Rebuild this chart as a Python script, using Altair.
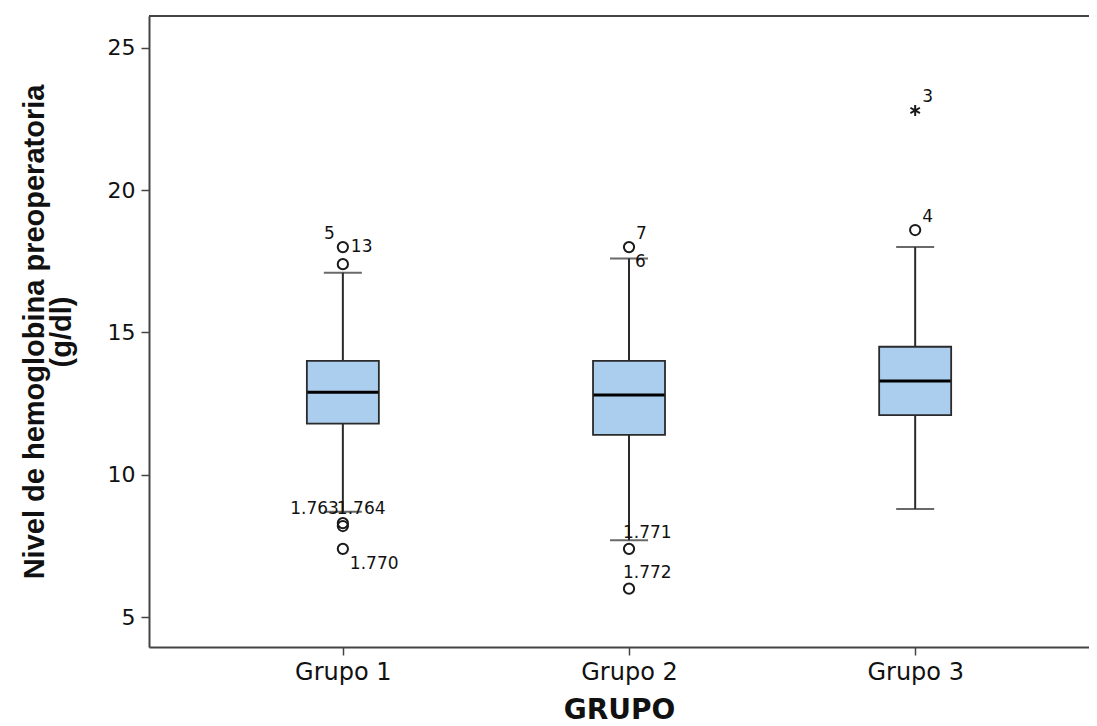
import altair as alt
import pandas as pd

# --- data ---
groups = [1, 2, 3]
group_names = ["Grupo 1", "Grupo 2", "Grupo 3"]
q1 = [11.8, 11.4, 12.1]
median = [12.9, 12.8, 13.3]
q3 = [14.0, 14.0, 14.5]
whisker_low = [8.7, 7.7, 8.8]
whisker_high = [17.1, 17.6, 18.0]

outlier_group = [1, 1, 1, 1, 1, 2, 2, 2, 3]
outlier_value = [18.0, 17.4, 8.3, 8.2, 7.4, 18.0, 7.4, 6.0, 18.6]

extreme_group = [3]
extreme_value = [22.8]

label_group = [1, 1, 1, 1, 1, 2, 2, 2, 2, 3, 3]
label_value = [18.0, 18.0, 8.3, 8.3, 7.4, 18.0, 17.6, 7.4, 6.0, 18.6, 22.8]
label_text = ["5", "13", "1.763", "1.764", "1.770", "7", "6", "1.771", "1.772", "4", "3"]
label_place = ["ul", "r", "al", "ar", "lr", "ur", "rr", "ab", "ab", "ur", "ur"]

# --- tables ---
boxes = pd.DataFrame({"grp": groups, "name": group_names, "q1": q1, "median": median,
                      "q3": q3, "lo": whisker_low, "hi": whisker_high})
outliers = pd.DataFrame({"grp": outlier_group, "val": outlier_value})
extremes = pd.DataFrame({"grp": extreme_group, "val": extreme_value})
labels = pd.DataFrame({"grp": label_group, "val": label_value, "txt": label_text,
                       "place": label_place})

W, H = 940, 631
DARK = "#2a2a2a"

xscale = alt.Scale(domain=[0.34, 3.59], nice=False, zero=False)
yscale = alt.Scale(domain=[3.95, 26.12], nice=False, zero=False)

xaxis = alt.Axis(values=[1, 2, 3], labelExpr="'Grupo ' + datum.value", title="GRUPO",
                 grid=False, tickSize=8, tickColor="#444", tickWidth=1.5,
                 domainColor="#444", domainWidth=2, labelFont="DejaVu Sans",
                 labelFontSize=24, labelColor="#111", labelPadding=5, labelFlush=False,
                 titleFont="DejaVu Sans", titleFontSize=28, titleFontWeight="bold",
                 titleColor="#111", titlePadding=12)
yaxis = alt.Axis(values=[5, 10, 15, 20, 25], grid=False, tickSize=8, tickColor="#444",
                 tickWidth=1.5, domainColor="#444", domainWidth=2,
                 labelFont="DejaVu Sans", labelFontSize=22, labelColor="#111",
                 labelPadding=6, labelFlush=False,
                 title=["Nivel de hemoglobina preoperatoria", "(g/dl)"],
                 titleFont="Liberation Sans", titleFontSize=29, titleFontWeight="bold",
                 titleColor="#111", titleLineHeight=27, titleX=-129, titleBaseline="top")

X = alt.X("grp:Q", scale=xscale, axis=xaxis)
Y = lambda f: alt.Y(f, type="quantitative", scale=yscale, axis=yaxis)

base = alt.Chart(boxes)

whisk_up = base.mark_rule(color=DARK, strokeWidth=2).encode(x=X, y=Y("q3"), y2="hi")
whisk_dn = base.mark_rule(color=DARK, strokeWidth=2).encode(x=X, y=Y("lo"), y2="q1")
cap_up = base.mark_tick(orient="horizontal", size=38, thickness=2, color=DARK).encode(x=X, y=Y("hi"))
cap_dn = base.mark_tick(orient="horizontal", size=38, thickness=2, color=DARK).encode(x=X, y=Y("lo"))
box = base.mark_bar(size=72, fill="#abcdee", stroke=DARK, strokeWidth=1.8).encode(
    x=X, y=Y("q1"), y2="q3")
med = base.mark_tick(orient="horizontal", size=71, thickness=3, color="#000000",
                     opacity=1).encode(x=X, y=Y("median"))

pts = alt.Chart(outliers).mark_point(shape="circle", filled=False, size=105, opacity=1,
                                     stroke="#1a1a1a", strokeWidth=2).encode(x=X, y=Y("val"))
star_path = "M0,-1L0,1M-0.87,-0.5L0.87,0.5M-0.87,0.5L0.87,-0.5"
stars = alt.Chart(extremes).mark_point(shape=star_path, filled=False, size=120, opacity=1,
                                       stroke="#1a1a1a", strokeWidth=2).encode(x=X, y=Y("val"))

offsets = {
    "ul": ("right", -8, -13),
    "r": ("left", 8, 0),
    "al": ("right", -4, -14),
    "ar": ("left", -6, -14),
    "lr": ("left", 7, 15),
    "ur": ("left", 7, -13),
    "rr": ("left", 6, 4),
    "ab": ("left", -6, -16),
}
text_layers = []
for key, (al, dx, dy) in offsets.items():
    text_layers.append(
        alt.Chart(labels).transform_filter(alt.datum.place == key)
        .mark_text(align=al, baseline="middle", dx=dx, dy=dy, font="DejaVu Sans",
                   fontSize=17, color="#111")
        .encode(x=X, y=Y("val"), text="txt:N")
    )

top_border = alt.Chart(boxes).mark_rule(color="#444", strokeWidth=2).encode(
    x=alt.value(0), x2=alt.value(W), y=alt.value(0))

chart = alt.layer(whisk_up, whisk_dn, cap_up, cap_dn, box, med, pts, stars,
                  *text_layers, top_border).properties(
    width=W, height=H,
    autosize=alt.AutoSizeParams(type="none"),
    padding={"left": 141, "top": 8, "right": 0, "bottom": 78},
).configure_view(strokeWidth=0).configure(background="white")

chart.save("out.html", embed_options={"renderer": "svg", "actions": False})
